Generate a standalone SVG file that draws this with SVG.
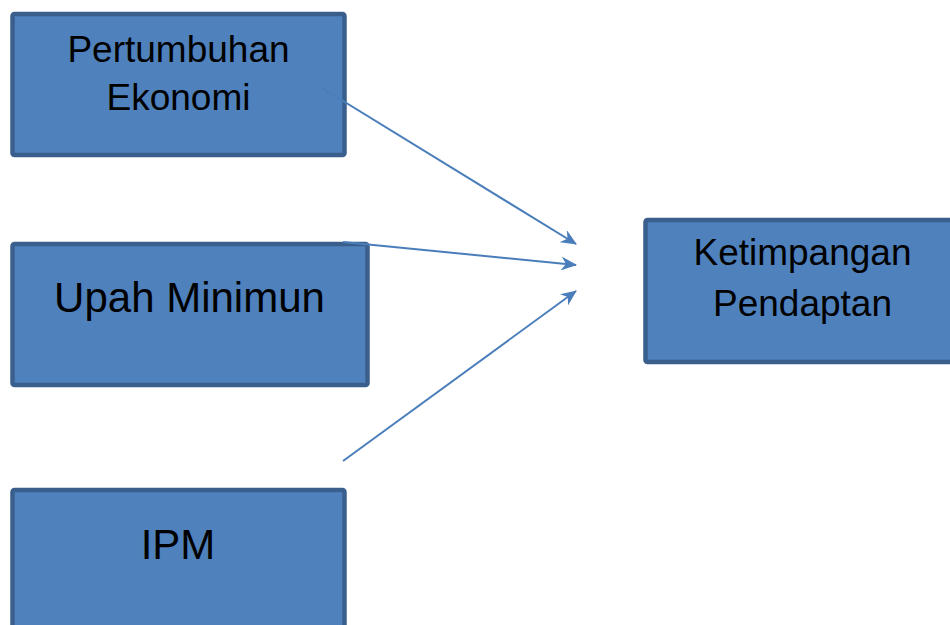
<svg xmlns="http://www.w3.org/2000/svg" width="950" height="625" viewBox="0 0 950 625">
<style>
.box{fill:#4f81bd;stroke:#3b5f8d;stroke-width:4.5}
.t{font-family:"Liberation Sans",Arial,sans-serif;fill:#000;text-anchor:middle}
.c{stroke:#4a7ebb;stroke-width:2;fill:none;marker-end:url(#ah)}
</style>
<defs>
<marker id="ah" markerUnits="userSpaceOnUse" markerWidth="16" markerHeight="14" viewBox="0 0 16 14" refX="15" refY="7" orient="auto">
<path d="M0,0 L16,7 L0,14 L5,7 z" fill="#4a7ebb"/>
</marker>
</defs>
<rect width="950" height="625" fill="#fff"/>
<g id="pertumbuhan">
<rect class="box" x="12.5" y="14" width="332" height="141" rx="2"/>
<text class="t" x="178.5" y="62" font-size="37">Pertumbuhan</text>
<text class="t" x="178.5" y="110" font-size="37">Ekonomi</text>
</g>
<g id="upah">
<rect class="box" x="12.5" y="244" width="355" height="141" rx="2"/>
<text class="t" x="189.5" y="312" font-size="42">Upah Minimun</text>
</g>
<g id="ipm">
<rect class="box" x="12.5" y="490" width="332" height="150" rx="2"/>
<text class="t" x="178" y="559" font-size="42">IPM</text>
</g>
<g id="ketimpangan">
<rect class="box" x="645.5" y="220" width="320" height="142" rx="2"/>
<text class="t" x="802.5" y="265" font-size="37">Ketimpangan</text>
<text class="t" x="802.5" y="316" font-size="37">Pendaptan</text>
</g>
<g id="connectors">
<line class="c" x1="322" y1="88" x2="576" y2="244"/>
<line class="c" x1="343" y1="242" x2="576" y2="265"/>
<line class="c" x1="343" y1="461" x2="576" y2="291"/>
</g>
</svg>
